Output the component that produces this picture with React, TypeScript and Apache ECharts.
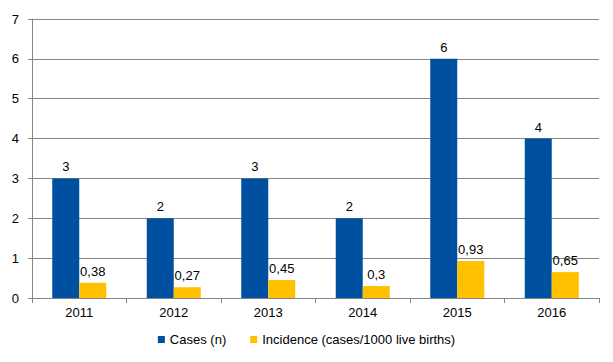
import React, { useEffect, useRef } from "react";
import * as echarts from "echarts";

const categories = ["2011", "2012", "2013", "2014", "2015", "2016"];
const cases = [3, 2, 3, 2, 6, 4];
const incidence = [0.38, 0.27, 0.45, 0.3, 0.93, 0.65];
const yTicks = [0, 1, 2, 3, 4, 5, 6, 7];

const FONT = "Liberation Sans, Arial, sans-serif";

export default function App() {
  const ref = useRef<HTMLDivElement>(null);
  useEffect(() => {
    if (!ref.current) return;
    const chart = echarts.init(ref.current, undefined, { renderer: "svg" });
    chart.setOption({
      animation: false,
      textStyle: { fontFamily: FONT },
      grid: { left: 32, right: 14, top: 19, bottom: 64, containLabel: false },
      legend: {
        bottom: 11,
        left: "center",
        itemWidth: 7,
        itemHeight: 7,
        itemGap: 24,
        icon: "rect",
        textStyle: { fontFamily: FONT, fontSize: 13, color: "#000" },
        data: ["Cases (n)", "Incidence (cases/1000 live births)"],
      },
      xAxis: {
        type: "category",
        data: categories,
        axisLine: { lineStyle: { color: "#868686" } },
        axisTick: { show: true, length: 5, lineStyle: { color: "#868686" } },
        axisLabel: { color: "#000", fontSize: 13, fontFamily: FONT, margin: 8 },
      },
      yAxis: {
        type: "value",
        min: yTicks[0],
        max: yTicks[yTicks.length - 1],
        interval: 1,
        axisLine: { show: true, lineStyle: { color: "#868686" } },
        axisTick: { show: true, length: 4, lineStyle: { color: "#868686" } },
        axisLabel: { color: "#000", fontSize: 13, fontFamily: FONT, margin: 13 },
        splitLine: { lineStyle: { color: "#868686", width: 1 } },
      },
      series: [
        {
          name: "Cases (n)",
          type: "bar",
          data: cases,
          barWidth: 27,
          barGap: "0%",
          itemStyle: { color: "#0050A2" },
          label: {
            show: true,
            position: "top",
            distance: 5,
            color: "#000",
            fontSize: 13,
            fontFamily: FONT,
          },
        },
        {
          name: "Incidence (cases/1000 live births)",
          type: "bar",
          data: incidence,
          barWidth: 27,
          barGap: "0%",
          itemStyle: { color: "#FFC000" },
          label: {
            show: true,
            position: "top",
            distance: 5,
            color: "#000",
            fontSize: 13,
            fontFamily: FONT,
            formatter: (p: any) => String(p.value).replace(".", ","),
          },
        },
      ],
    });
    return () => chart.dispose();
  }, []);
  return <div ref={ref} style={{ width: 613, height: 362, position: "absolute", left: 0, top: 0 }} />;
}
